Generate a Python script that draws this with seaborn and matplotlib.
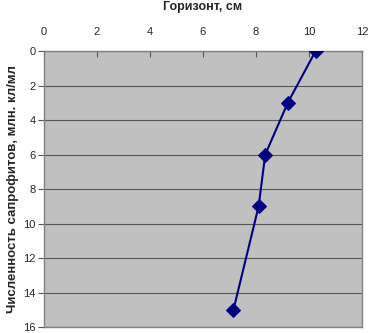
import matplotlib
matplotlib.use("Agg")
import matplotlib.pyplot as plt
import seaborn as sns
import pandas as pd

# данные
saprofity = [10.25, 9.2, 8.35, 8.1, 7.15]
gorizont = [0, 3, 6, 9, 15]

df = pd.DataFrame({"x": saprofity, "y": gorizont})

sns.set_style("white")
plt.rcParams['font.family'] = ['Liberation Sans', 'DejaVu Sans']

fig = plt.figure(figsize=(3.68, 3.33), dpi=100)
ax = fig.add_axes([0.1196, 0.018, 0.864, 0.8288])
ax.set_facecolor("#C0C0C0")

sns.lineplot(x="x", y="y", data=df, sort=False, ax=ax, color="#000080",
             linewidth=1.5, marker="D", markersize=7, markeredgecolor="#000080",
             zorder=3)

ax.set_xlim(0, 12)
ax.set_ylim(16, 0)
ax.set_xticks(range(0, 13, 2))
ax.set_yticks(range(0, 17, 2))
ax.xaxis.tick_top()
ax.xaxis.set_label_position("top")
ax.yaxis.grid(True, color="#555555", linewidth=0.8)
ax.xaxis.grid(False)
ax.set_axisbelow(True)
ax.tick_params(axis="x", direction="in", length=4, labelsize=8, pad=10, color="#555555")
ax.tick_params(axis="y", direction="out", length=4, labelsize=8, pad=2, left=True, color="#555555")
for s in ax.spines.values():
    s.set_color("#808080")
    s.set_linewidth(1)

ax.set_xlabel("Горизонт, см", fontsize=9, fontweight="bold", labelpad=12)
ax.set_ylabel("Численность сапрофитов, млн. кл/мл", fontsize=9.5, fontweight="bold", labelpad=3)

plt.savefig("out.png", dpi=100)
